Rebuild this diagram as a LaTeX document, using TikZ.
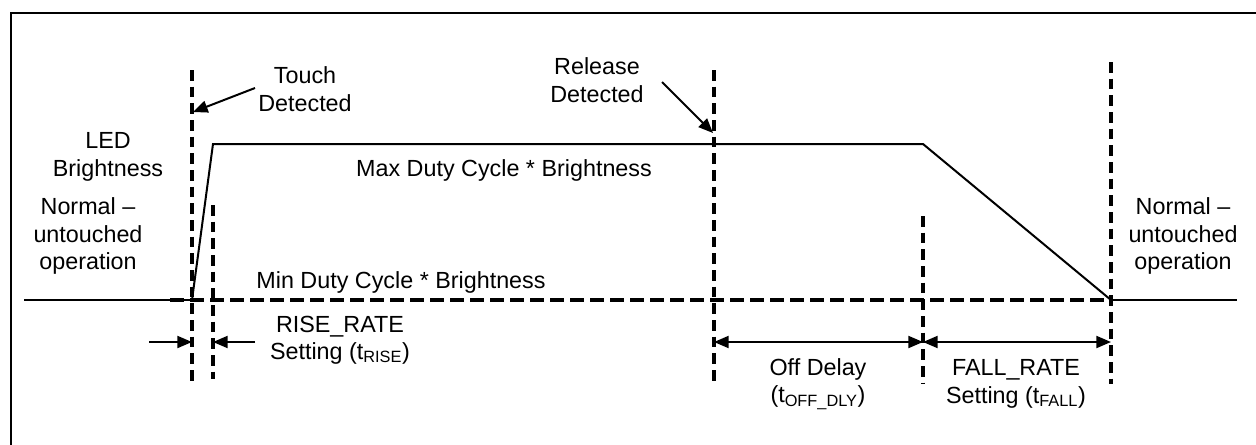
\documentclass[tikz,border=0pt]{standalone}
\usepackage{fontspec}
\setmainfont{Liberation Sans}
\usetikzlibrary{arrows.meta}
\begin{document}
\begin{tikzpicture}[x=0.75pt,y=-0.75pt,
  lbl/.style={align=center,font=\fontsize{17.5}{20.5}\selectfont,inner sep=0pt},
  dsh/.style={line width=2.5pt,dash pattern=on 8pt off 4.5pt},
  hdsh/.style={line width=2.5pt,dash pattern=on 10.5pt off 4.5pt},
  sig/.style={line width=1.5pt},
  arr/.style={line width=1.5pt,-{Triangle[length=11pt,width=9pt]}},
  dim/.style={line width=1.5pt,{Triangle[length=11pt,width=9pt]}-{Triangle[length=11pt,width=9pt]}}]
\useasboundingbox (0,0) rectangle (1256,444);
% frame
\draw[line width=2.2pt] (11,446) -- (11,13) -- (1258,13);
% key points
\coordinate (l0) at (24,300);
\coordinate (r0) at (192,300);
\coordinate (r1) at (213,144);
\coordinate (f0) at (923,144);
\coordinate (f1) at (1111,300);
\coordinate (e1) at (1237,300);
\coordinate (dl) at (170,300);
% dashed verticals
\coordinate (v1t) at (192,70);  \coordinate (v1b) at (192,384);
\coordinate (v2t) at (213,205); \coordinate (v2b) at (213,379);
\coordinate (v3t) at (714,70);  \coordinate (v3b) at (714,384);
\coordinate (v4t) at (923,216); \coordinate (v4b) at (923,384);
\coordinate (v5t) at (1111,62); \coordinate (v5b) at (1111,384);
\draw[dsh] (v1t) -- (v1b);
\draw[dsh] (v2t) -- (v2b);
\draw[dsh] (v3t) -- (v3b);
\draw[dsh] (v4t) -- (v4b);
\draw[dsh] (v5t) -- (v5b);
% baseline
\draw[sig] (l0) -- (r0);
\draw[hdsh] (dl) -- (f1);
\draw[sig] (f1) -- (e1);
% signal
\draw[sig] (r0) -- (r1) -- (f0) -- (f1);
% labels
\node[lbl] (led) at (108,157) {LED\\Brightness};
\node[lbl] (nl) at (88,236) {Normal –\\untouched\\operation};
\node[lbl] (nr) at (1183,236) {Normal –\\untouched\\operation};
\node[lbl] (maxd) at (504,170) {Max Duty Cycle * Brightness};
\node[lbl] (mind) at (401,282) {Min Duty Cycle * Brightness};
\node[lbl] (touch) at (305,89) {Touch\\Detected};
\node[lbl] (rel) at (597,80) {Release\\Detected};
\node[lbl] (rise) at (340,340) {RISE\_RATE\\Setting (t\textsubscript{RISE})};
\node[lbl] (off) at (818,384) {Off Delay\\(t\textsubscript{OFF\_DLY})};
\node[lbl] (fall) at (1016,384) {FALL\_RATE\\Setting (t\textsubscript{FALL})};
% annotation arrows
\coordinate (ta) at (255,88);  \coordinate (tb) at (193,112);
\draw[arr] (ta) -- (tb);
\coordinate (ra) at (662,82);  \coordinate (rb) at (713,133);
\draw[arr] (ra) -- (rb);
% rise rate arrows
\coordinate (rl0) at (149,342); \coordinate (rl1) at (192,342);
\coordinate (rr0) at (255,342); \coordinate (rr1) at (213,342);
\draw[arr] (rl0) -- (rl1);
\draw[arr] (rr0) -- (rr1);
% dimension arrows
\coordinate (d1) at (714,342); \coordinate (d2) at (923,342); \coordinate (d3) at (1111,342);
\draw[dim] (d1) -- (d2);
\draw[dim] (d2) -- (d3);
\end{tikzpicture}
\end{document}
